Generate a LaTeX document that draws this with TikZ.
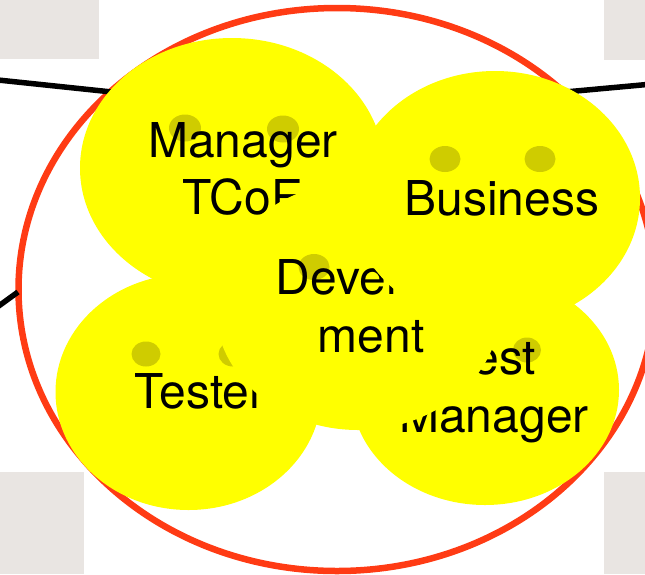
\documentclass[tikz,border=0pt]{standalone}
\usepackage{fontspec}
\setmainfont{TeX Gyre Heros}
\usetikzlibrary{shapes.geometric}
\definecolor{paneGray}{HTML}{E9E5E2}
\definecolor{ringRed}{HTML}{FF3B14}
\definecolor{faceYellow}{HTML}{FFFF00}
\definecolor{eyeOlive}{HTML}{CFCC00}
\tikzset{
  pane/.style={fill=paneGray,draw=none},
  link/.style={draw=black,line width=5.5pt},
  ring/.style={ellipse,draw=ringRed,line width=6.5pt,fill=white,inner sep=0pt,minimum width=637pt,minimum height=563pt},
  face/.style={ellipse,fill=faceYellow,draw=none,inner sep=0pt},
  eye/.style={ellipse,fill=eyeOlive,draw=none,inner sep=0pt},
  label/.style={inner sep=0pt,font=\fontsize{48}{57}\selectfont,text=black,anchor=base}
}
\begin{document}
\begin{tikzpicture}[x=1pt,y=-1pt]
\useasboundingbox (0,0) rectangle (645,574);
\clip (0,0) rectangle (645,574);
\fill[pane] (0,0) rectangle (99,59);
\fill[pane] (604,0) rectangle (645,60);
\fill[pane] (0,472) rectangle (84,574);
\fill[pane] (604,472) rectangle (645,574);
\node[ring] (team) at (337,289.5) {};
\coordinate (lineA) at (-2,80);
\coordinate (lineAend) at (112,92);
\coordinate (lineB) at (647,84.5);
\coordinate (lineBend) at (565,92);
\coordinate (lineC) at (-2,306.5);
\coordinate (lineCend) at (18,292);
\draw[link] (lineA) -- (lineAend);
\draw[link] (lineB) -- (lineBend);
\draw[link] (lineC) -- (lineCend);
% Manager TCoE
\node[face,minimum width=304pt,minimum height=260pt] (manager) at (232,168) {};
\node[eye,minimum width=32pt,minimum height=27pt] (managerEyeL) at (185,128) {};
\node[eye,minimum width=32pt,minimum height=27pt] (managerEyeR) at (283,129) {};
\node[label] (managerTextA) at (243,157) {Manager};
\node[label] (managerTextB) at (243,214) {TCoE};
% Tester
\node[face,minimum width=266pt,minimum height=236pt] (tester) at (188.5,392) {};
\node[eye,minimum width=29pt,minimum height=25pt] (testerEyeL) at (146,354) {};
\node[eye,minimum width=29pt,minimum height=25pt] (testerEyeR) at (233,354) {};
\node[label] (testerText) at (200,408) {Tester};
% Test Manager
\node[face,minimum width=268pt,minimum height=230pt] (testManager) at (485,390) {};
\node[eye,minimum width=28pt,minimum height=25pt] (testEyeR) at (527,350) {};
\node[label] (testTextA) at (492,374) {Test};
\node[label] (testTextB) at (494,432) {Manager};
% Development
\node[face,minimum width=286pt,minimum height=248pt] (developer) at (358,306) {};
\node[eye,minimum width=31pt,minimum height=26pt] (developerEye) at (314,267) {};
\node[label] (developerTextA) at (371,294) {Develop-};
\node[label] (developerTextB) at (371,352) {ment};
% Business
\node[face,minimum width=290pt,minimum height=254pt] (business) at (495,198) {};
\node[eye,minimum width=31pt,minimum height=26pt] (businessEyeL) at (445,159) {};
\node[eye,minimum width=31pt,minimum height=26pt] (businessEyeR) at (540,159) {};
\node[label] (businessText) at (502,215) {Business};
\end{tikzpicture}
\end{document}
